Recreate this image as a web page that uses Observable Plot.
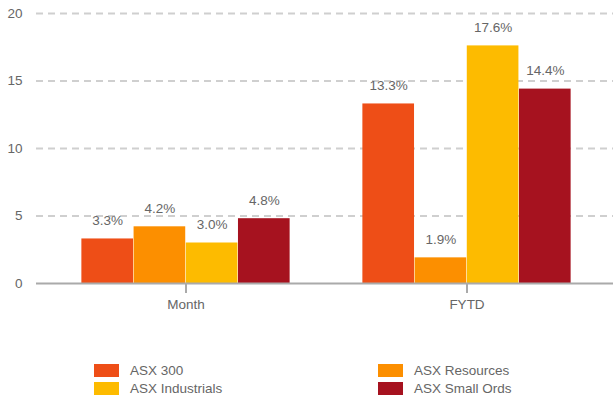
<!DOCTYPE html>
<html>
<head>
<meta charset="utf-8">
<script src="https://cdn.jsdelivr.net/npm/d3@7"></script>
<script src="https://cdn.jsdelivr.net/npm/@observablehq/plot@0.6"></script>
<style>
  html, body { margin: 0; padding: 0; background: #fff; }
  #wrap { position: relative; width: 613px; height: 400px; font-family: "Liberation Sans", Arial, sans-serif; }
  #legend { position: absolute; left: 0; top: 361px; width: 613px; }
  .item { position: absolute; display: flex; align-items: center; font-size: 13.5px; color: #666; height: 18px; }
  .sw { width: 25px; height: 13px; margin-right: 11px; }
</style>
</head>
<body>
<div id="wrap"><div id="chart"></div><div id="legend"></div></div>
<script>
const groups = ["Month", "FYTD"];
const series = ["ASX 300", "ASX Resources", "ASX Industrials", "ASX Small Ords"];
const colors = ["#EE4E17", "#FC8F00", "#FDBB00", "#A6121F"];
const monthValues = [3.3, 4.2, 3.0, 4.8];
const fytdValues = [13.3, 1.9, 17.6, 14.4];
const yTicks = [0, 5, 10, 15, 20];

const data = [];
series.forEach((s, i) => {
  data.push({group: "Month", series: s, value: monthValues[i]});
  data.push({group: "FYTD", series: s, value: fytdValues[i]});
});

const W = 613, H = 340;
const xOpts = {type: "band", domain: groups, range: [36, 616], paddingInner: 0, paddingOuter: 0.03};
const bw = Plot.scale({x: xOpts}).bandwidth;
const barW = 52.2;
const inset = (bw - barW) / 2;
const FS = 13.5;

const marks = [
  Plot.ruleY(yTicks.filter(d => d > 0), {stroke: "#cfcfcf", strokeWidth: 2, strokeDasharray: "7,5"}),
  Plot.axisY(yTicks, {tickSize: 0, tickPadding: 14, fill: "#666", fontSize: FS, label: null}),
];
series.forEach((s, i) => {
  const sub = data.filter(d => d.series === s);
  const dx = (i - 1.5) * barW;
  marks.push(Plot.barY(sub, {x: "group", y: "value", fill: "series", insetLeft: inset + dx, insetRight: inset - dx}));
  marks.push(Plot.text(sub, {x: "group", y: "value", text: d => d.value.toFixed(1) + "%", dx, dy: -18, fill: "#666", fontSize: FS}));
});
marks.push(Plot.ruleY([0], {stroke: "#aaa", strokeWidth: 2}));
marks.push(Plot.axisX({tickSize: 10, stroke: "#aaa", strokeWidth: 2, tickPadding: 6, fill: "#666", fontSize: FS, label: null}));

const chart = Plot.plot({
  width: W, height: H,
  marginLeft: 36, marginRight: 0, marginTop: 13, marginBottom: H - 283,
  style: {fontFamily: "'Liberation Sans', Arial, sans-serif", background: "transparent"},
  x: {...xOpts, label: null},
  y: {domain: [0, 20], label: null},
  color: {domain: series, range: colors},
  marks
});
document.getElementById("chart").appendChild(chart);

const legend = document.getElementById("legend");
const pos = [[94, 0], [378, 0], [94, 18], [378, 18]];
series.forEach((s, i) => {
  const it = document.createElement("div");
  it.className = "item";
  it.style.left = pos[i][0] + "px";
  it.style.top = pos[i][1] + "px";
  it.innerHTML = `<div class="sw" style="background:${colors[i]}"></div><span>${s}</span>`;
  legend.appendChild(it);
});
</script>
</body>
</html>
